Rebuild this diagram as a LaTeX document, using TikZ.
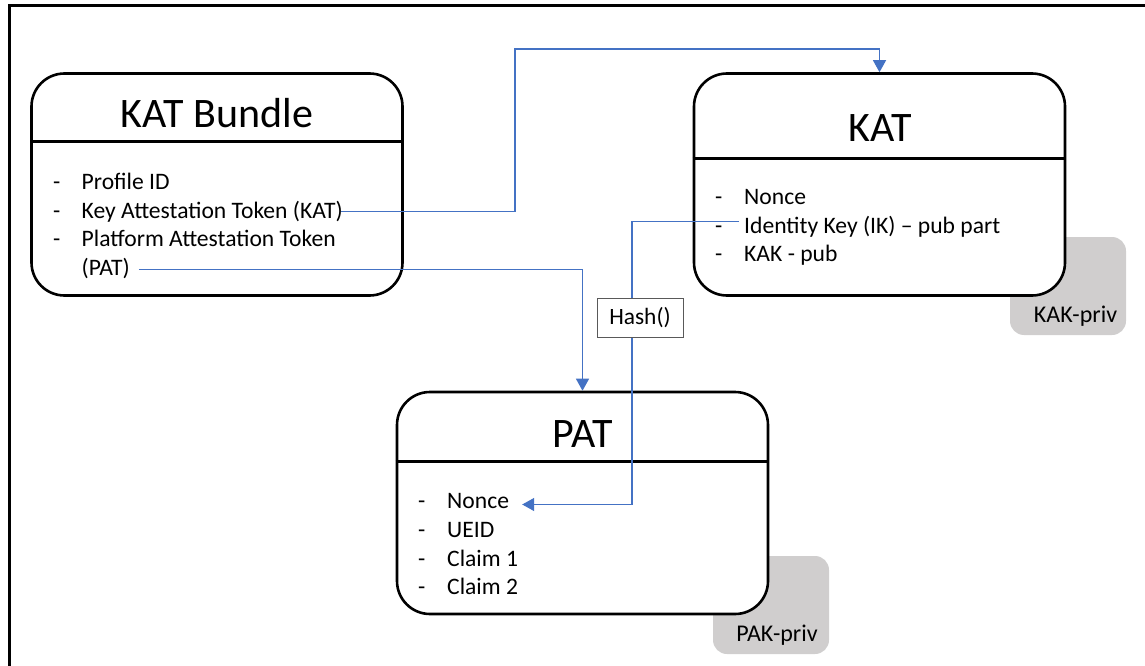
\documentclass[tikz,border=0pt]{standalone}
\usepackage{fontspec}
\setmainfont{Carlito}
\usetikzlibrary{arrows.meta,calc}

\definecolor{linkblue}{HTML}{4472C4}
\definecolor{keygray}{HTML}{D0CECE}
\definecolor{hashedge}{HTML}{595959}

\begin{document}
\begin{tikzpicture}[x=1pt,y=-1pt,
  card/.style={draw=black, line width=2.6pt, fill=white, rounded corners=33pt,
    minimum width=371pt, minimum height=222pt, inner sep=0pt},
  divider/.style={draw=black, line width=2.6pt},
  title/.style={font=\fontsize{42}{46}\selectfont, inner sep=0pt, anchor=base},
  entry/.style={font=\fontsize{23.6}{27}\selectfont, inner sep=0pt, anchor=base west},
  keybox/.style={fill=keygray, rounded corners=14pt, minimum width=116pt,
    minimum height=98pt, inner sep=0pt},
  keylabel/.style={font=\fontsize{24}{27}\selectfont, inner sep=0pt, anchor=base},
  link/.style={draw=linkblue, line width=1.3pt, -{Triangle[length=12pt,width=13pt]}},
  hashbox/.style={draw=hashedge, line width=0.9pt, fill=white, minimum width=86pt,
    minimum height=39pt, inner sep=0pt, font=\fontsize{23.4}{27}\selectfont},
]
\useasboundingbox (0,0) rectangle (1145,666);

% outer frame (top and left edges)
\draw[line width=3pt] (9,666) -- (9,6) -- (1145,6);

% private-key tabs behind the token cards
\node[keybox] (kakpriv) at (1068,286) {};
\node[keylabel] (kakprivtxt) at (1075.5,322) {KAK-priv};
\node[keybox] (pakpriv) at (771,605) {};
\node[keylabel] (pakprivtxt) at (777,641) {PAK-priv};

% KAT Bundle card
\node[card] (bundle) at (217,184.5) {};
\draw[divider] (bundle.west |- 0,141.5) -- (bundle.east |- 0,141.5);
\node[title] (bundletitle) at (217,128) {KAT Bundle};
\node[entry] (bd1) at (53,189) {-};
\node[entry] (profile) at (81.5,189) {Profile ID};
\node[entry] (bd2) at (53,218) {-};
\node[entry] (katok) at (81.5,218) {Key Attestation Token (KAT)};
\node[entry] (bd3) at (53,246.5) {-};
\node[entry] (pattok) at (81.5,246.5) {Platform Attestation Token};
\node[entry] (patpar) at (81.5,275) {(PAT)};

% KAT card
\node[card] (kat) at (879.5,184.5) {};
\draw[divider] (kat.west |- 0,158.5) -- (kat.east |- 0,158.5);
\node[title] (kattitle) at (880,142) {KAT};
\node[entry] (kd1) at (715,204) {-};
\node[entry] (knonce) at (744,204) {Nonce};
\node[entry] (kd2) at (715,233) {-};
\node[entry] (ik) at (744,233) {Identity Key (IK) – pub part};
\node[entry] (kd3) at (715,261) {-};
\node[entry] (kakpub) at (744,261) {KAK - pub};

% PAT card
\node[card] (pat) at (582.5,503) {};
\draw[divider] (pat.west |- 0,461.7) -- (pat.east |- 0,461.7);
\node[title] (pattitle) at (583,447) {PAT};
\node[entry] (pd1) at (418,508) {-};
\node[entry] (pnonce) at (447,508) {Nonce};
\node[entry] (pd2) at (418,537) {-};
\node[entry] (ueid) at (447,537) {UEID};
\node[entry] (pd3) at (418,566) {-};
\node[entry] (claim1) at (447,566) {Claim 1};
\node[entry] (pd4) at (418,594.5) {-};
\node[entry] (claim2) at (447,594.5) {Claim 2};

% connectors
\coordinate (katbend) at (515,49);
\draw[link] ([xshift=-2pt]katok.east) -| (katbend) -| (kat.north);

\draw[link] ([xshift=9pt,yshift=-1.5pt]patpar.east) -| (pat.north);

\coordinate (hashbend) at (632,504.5);
\draw[link, shorten >=13pt] ([xshift=-5pt,yshift=5pt]ik.west) -| (hashbend)
  -- (hashbend -| pnonce.east);

% hash step on the identity-key path
\node[hashbox] (hash) at (640,317.5) {Hash()};
\end{tikzpicture}
\end{document}
